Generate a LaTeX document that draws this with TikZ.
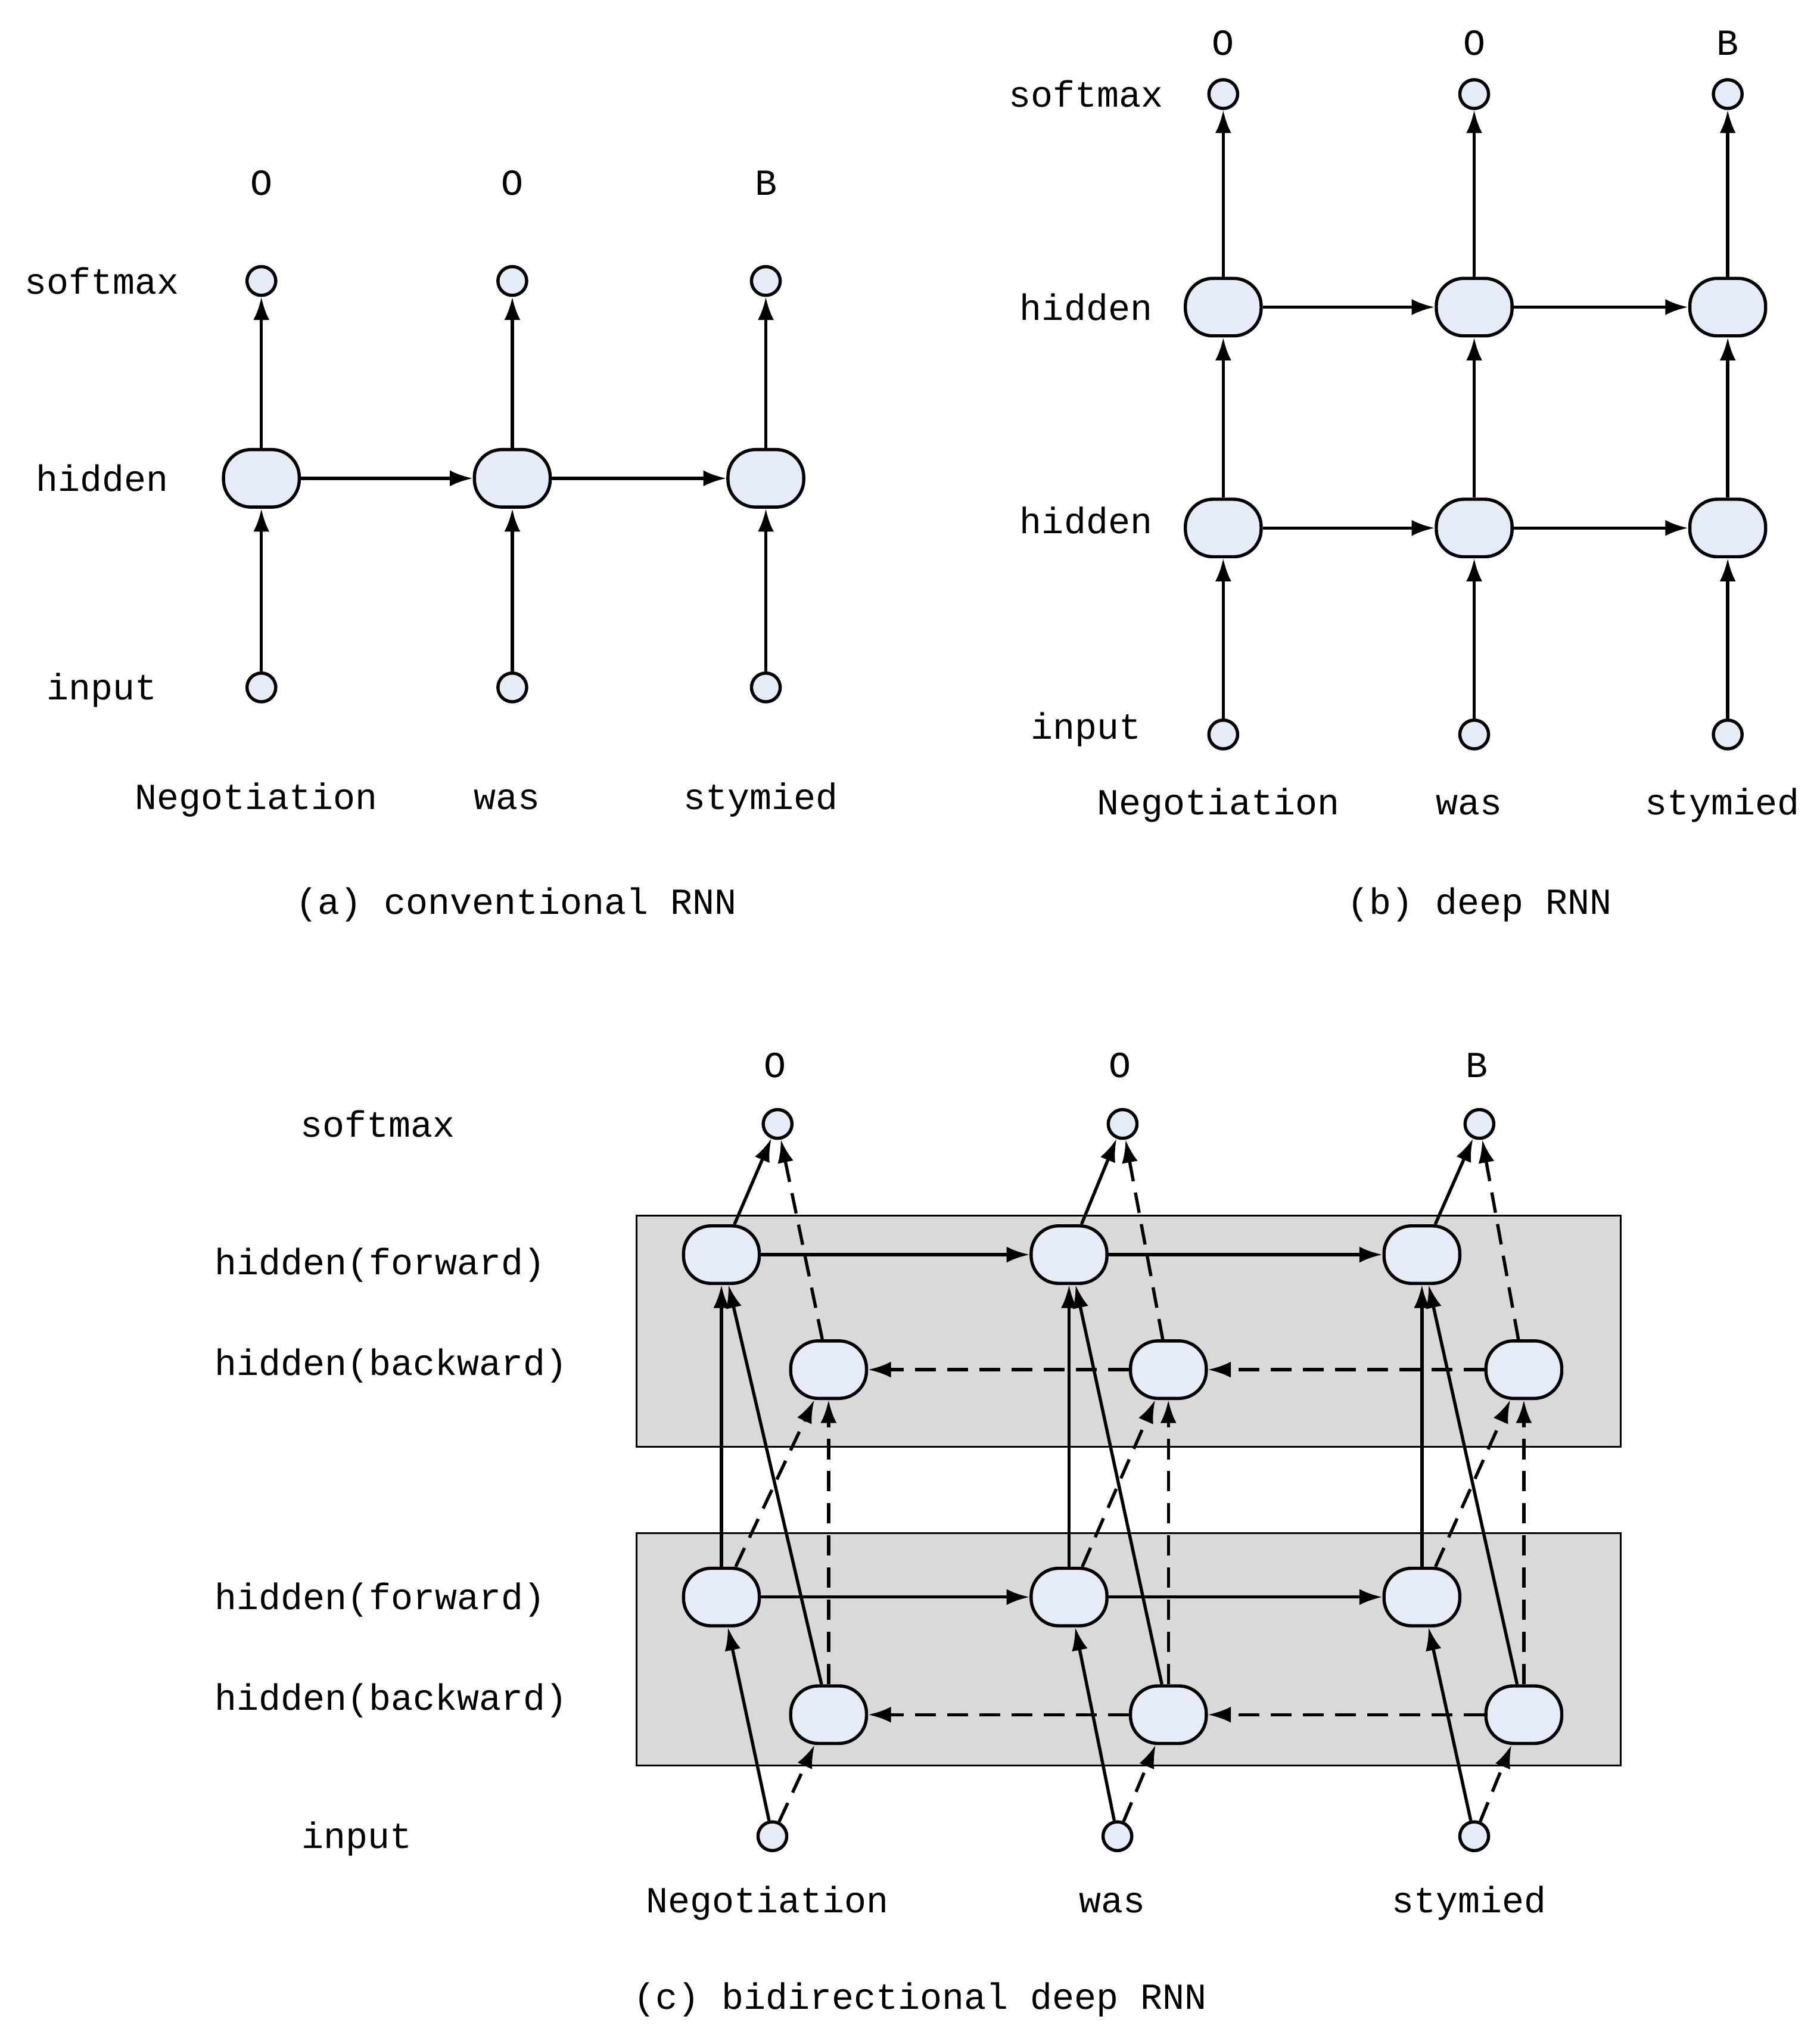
\documentclass[tikz,border=0pt]{standalone}
\usepackage{fontspec}
\setmainfont{Liberation Mono}
\usetikzlibrary{arrows.meta,positioning}
\definecolor{cellblue}{RGB}{230,236,247}
\tikzstyle{dot} = [circle, draw=black, line width=1.4pt, fill=cellblue, minimum size=0.44cm, inner sep=0pt]
\tikzstyle{cell} = [rectangle, rounded corners=0.42cm, draw=black, line width=1.4pt, fill=cellblue, minimum width=1.16cm, minimum height=0.88cm, inner sep=0pt]
\tikzstyle{lbl} = [font=\fontsize{16}{19}\selectfont]
\tikzstyle{arrow} = [line width=1.4pt,-{Latex[length=10pt,width=7pt]}]
\tikzstyle{darrow} = [arrow,dash pattern=on 9pt off 5pt]
\begin{document}
\begin{tikzpicture}[x=0.02cm,y=-0.02cm]
		\useasboundingbox (0,0) rectangle (1390,1564);
		% (a) conventional RNN
		\foreach \i/\x/\w/\t in {1/200/Negotiation/O,2/392/was/O,3/586/stymied/B} {
			\node (a-o\i) [lbl] at (\x,140) {\t};
			\node (a-s\i) [dot] at (\x,215) {};
			\node (a-h\i) [cell] at (\x,366) {};
			\node (a-in\i) [dot] at (\x,526) {};
			\node (a-w\i) [lbl] at (\x-4,612) {\w};
			\draw [arrow] (a-h\i) -- (a-s\i);
			\draw [arrow] (a-in\i) -- (a-h\i);
		}
		\draw [arrow] (a-h1) -- (a-h2);
		\draw [arrow] (a-h2) -- (a-h3);
		\node (a-l1) [lbl] at (78,215) {softmax};
		\node (a-l2) [lbl] at (78,366) {hidden};
		\node (a-l3) [lbl] at (78,528) {input};
		\node (a-cap) [lbl] at (395,692) {(a) conventional RNN};
		% (b) deep RNN
		\foreach \i/\x/\w/\t in {1/936/Negotiation/O,2/1128/was/O,3/1322/stymied/B} {
			\node (b-o\i) [lbl] at (\x,33) {\t};
			\node (b-s\i) [dot] at (\x,72) {};
			\node (b-h\i) [cell] at (\x,235) {};
			\node (b-g\i) [cell] at (\x,404) {};
			\node (b-in\i) [dot] at (\x,562) {};
			\node (b-w\i) [lbl] at (\x-4,616) {\w};
			\draw [arrow] (b-h\i) -- (b-s\i);
			\draw [arrow] (b-g\i) -- (b-h\i);
			\draw [arrow] (b-in\i) -- (b-g\i);
		}
		\draw [arrow] (b-h1) -- (b-h2);
		\draw [arrow] (b-h2) -- (b-h3);
		\draw [arrow] (b-g1) -- (b-g2);
		\draw [arrow] (b-g2) -- (b-g3);
		\node (b-l1) [lbl] at (831,72) {softmax};
		\node (b-l2) [lbl] at (831,235) {hidden};
		\node (b-l3) [lbl] at (831,398) {hidden};
		\node (b-l4) [lbl] at (831,558) {input};
		\node (b-cap) [lbl] at (1132,692) {(b) deep RNN};
		% (c) bidirectional deep RNN
		\fill [gray!30, draw=black, line width=0.8pt] (487,930) rectangle (1240,1107);
		\fill [gray!30, draw=black, line width=0.8pt] (487,1173) rectangle (1240,1351);
		\foreach \i/\f/\b/\x/\w/\t in {1/552/634/591/Negotiation/O,2/818/894/855/was/O,3/1088/1166/1128/stymied/B} {
			\node (c-o\i) [lbl] at (\x+2,815) {\t};
			\node (c-s\i) [dot] at (\x+4,860) {};
			\node (c-f\i) [cell] at (\f,960) {};
			\node (c-b\i) [cell] at (\b,1048) {};
			\node (c-g\i) [cell] at (\f,1222) {};
			\node (c-k\i) [cell] at (\b,1312) {};
			\node (c-in\i) [dot] at (\x,1405) {};
			\node (c-w\i) [lbl] at (\x-4,1456) {\w};
			\draw [arrow] (c-f\i) -- (c-s\i);
			\draw [darrow] (c-b\i) -- (c-s\i);
			\draw [arrow] (c-g\i) -- (c-f\i);
			\draw [darrow] (c-g\i) -- (c-b\i);
			\draw [arrow] (c-k\i) -- (c-f\i);
			\draw [darrow] (c-k\i) -- (c-b\i);
			\draw [arrow] (c-in\i) -- (c-g\i);
			\draw [darrow] (c-in\i) -- (c-k\i);
		}
		\draw [arrow] (c-f1) -- (c-f2);
		\draw [arrow] (c-f2) -- (c-f3);
		\draw [arrow] (c-g1) -- (c-g2);
		\draw [arrow] (c-g2) -- (c-g3);
		\draw [darrow] (c-b3) -- (c-b2);
		\draw [darrow] (c-b2) -- (c-b1);
		\draw [darrow] (c-k3) -- (c-k2);
		\draw [darrow] (c-k2) -- (c-k1);
		\node (c-l1) [lbl] at (289,860) {softmax};
		\node (c-l2) [lbl, anchor=west] at (158,968) {hidden(forward)};
		\node (c-l3) [lbl, anchor=west] at (158,1045) {hidden(backward)};
		\node (c-l4) [lbl, anchor=west] at (158,1224) {hidden(forward)};
		\node (c-l5) [lbl, anchor=west] at (158,1301) {hidden(backward)};
		\node (c-l6) [lbl] at (273,1407) {input};
		\node (c-cap) [lbl] at (704,1530) {(c) bidirectional deep RNN};
\end{tikzpicture}
\end{document}
